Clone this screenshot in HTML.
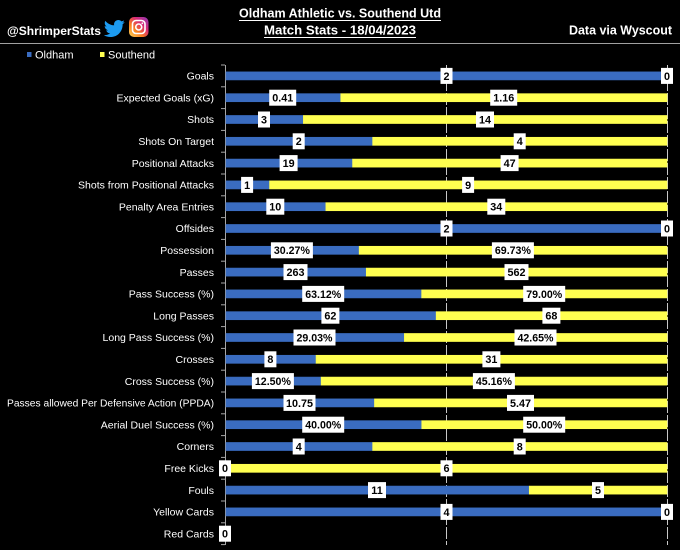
<!DOCTYPE html>
<html><head><meta charset="utf-8"><style>
html,body{margin:0;padding:0;background:#000;}
svg{display:block;}
text{font-family:"Liberation Sans",Arial,sans-serif;}
.c{fill:#fff;font-size:10.5px;text-anchor:end;}
.l{fill:#000;font-size:10.8px;font-weight:bold;text-anchor:middle;}
.bb rect{stroke:#3a6cc0;stroke-width:0.7;}
.yb rect{stroke:#ffff50;stroke-width:0.7;}
</style></head><body>
<svg width="680" height="550" viewBox="0 0 680 550" xmlns="http://www.w3.org/2000/svg">
<defs>
<linearGradient id="ig" x1="0" y1="1" x2="1" y2="0">
<stop offset="0" stop-color="#fdd85d"/><stop offset="0.35" stop-color="#fa7e1e"/><stop offset="0.65" stop-color="#d62976"/><stop offset="1" stop-color="#8a3ab9"/>
</linearGradient>
</defs>
<rect width="680" height="550" fill="#000"/>
<!-- header -->
<text x="7" y="35" fill="#fff" font-size="12px" font-weight="bold" textLength="94" lengthAdjust="spacingAndGlyphs">@ShrimperStats</text>
<path transform="translate(103,17.5) scale(0.92)" fill="#1d9bf0" d="M23.643 4.937c-.835.37-1.732.62-2.675.733.962-.576 1.7-1.49 2.048-2.578-.9.534-1.897.922-2.958 1.13-.85-.904-2.06-1.470-3.4-1.470-2.572 0-4.658 2.086-4.658 4.66 0 .364.042.718.12 1.06-3.873-.195-7.304-2.050-9.602-4.868-.4.690-.63 1.490-.63 2.342 0 1.616.823 3.043 2.072 3.878-.764-.025-1.482-.234-2.11-.583v.06c0 2.257 1.605 4.14 3.737 4.568-.392.106-.803.162-1.227.162-.3 0-.593-.028-.877-.082.593 1.85 2.313 3.198 4.352 3.234-1.595 1.25-3.604 1.995-5.786 1.995-.376 0-.747-.022-1.112-.065 2.062 1.323 4.51 2.093 7.14 2.093 8.57 0 13.255-7.098 13.255-13.254 0-.2-.005-.402-.014-.602.91-.658 1.7-1.478 2.323-2.41z"/>
<rect x="129" y="17" width="19.5" height="20" rx="5" fill="url(#ig)"/>
<rect x="132.5" y="20.5" width="12.5" height="13" rx="3.5" fill="none" stroke="#fff" stroke-width="1.6"/>
<circle cx="138.75" cy="27" r="3" fill="none" stroke="#fff" stroke-width="1.6"/>
<circle cx="142.3" cy="23.3" r="0.9" fill="#fff"/>
<text x="340" y="17.5" fill="#fff" font-size="12.5px" font-weight="bold" text-anchor="middle" textLength="202" lengthAdjust="spacingAndGlyphs">Oldham Athletic vs. Southend Utd</text>
<line x1="239" y1="20.5" x2="441" y2="20.5" stroke="#fff" stroke-width="1"/>
<text x="340" y="34.5" fill="#fff" font-size="12.5px" font-weight="bold" text-anchor="middle" textLength="152" lengthAdjust="spacingAndGlyphs">Match Stats - 18/04/2023</text>
<line x1="264" y1="37.5" x2="416" y2="37.5" stroke="#fff" stroke-width="1"/>
<text x="672" y="34.5" fill="#fff" font-size="12.5px" font-weight="bold" text-anchor="end" textLength="103" lengthAdjust="spacingAndGlyphs">Data via Wyscout</text>
<line x1="0" y1="43.5" x2="680" y2="43.5" stroke="#a0a0a0" stroke-width="1"/>
<!-- legend -->
<rect x="27" y="52" width="4.5" height="5" fill="#3a6cc0"/>
<text x="35" y="58.5" fill="#fff" font-size="11px">Oldham</text>
<rect x="100" y="52" width="4.5" height="5" fill="#ffff50"/>
<text x="108" y="58.5" fill="#fff" font-size="11px">Southend</text>
<!-- gridlines -->
<line x1="446.5" y1="65" x2="446.5" y2="545" stroke="#c8c8c8" stroke-width="1" stroke-dasharray="12,2"/>
<line x1="667.5" y1="65" x2="667.5" y2="545" stroke="#c8c8c8" stroke-width="1" stroke-dasharray="12,2"/>
<!-- axis -->
<line x1="225.5" y1="65" x2="225.5" y2="545" stroke="#a6a6a6" stroke-width="1"/>
<g stroke="#a6a6a6" stroke-width="1">
<line x1="221" y1="65" x2="225" y2="65"/><line x1="221" y1="86.8" x2="225" y2="86.8"/><line x1="221" y1="108.6" x2="225" y2="108.6"/><line x1="221" y1="130.4" x2="225" y2="130.4"/><line x1="221" y1="152.2" x2="225" y2="152.2"/><line x1="221" y1="174" x2="225" y2="174"/><line x1="221" y1="195.8" x2="225" y2="195.8"/><line x1="221" y1="217.6" x2="225" y2="217.6"/><line x1="221" y1="239.4" x2="225" y2="239.4"/><line x1="221" y1="261.2" x2="225" y2="261.2"/><line x1="221" y1="283" x2="225" y2="283"/><line x1="221" y1="304.8" x2="225" y2="304.8"/><line x1="221" y1="326.6" x2="225" y2="326.6"/><line x1="221" y1="348.4" x2="225" y2="348.4"/><line x1="221" y1="370.2" x2="225" y2="370.2"/><line x1="221" y1="392" x2="225" y2="392"/><line x1="221" y1="413.8" x2="225" y2="413.8"/><line x1="221" y1="435.6" x2="225" y2="435.6"/><line x1="221" y1="457.4" x2="225" y2="457.4"/><line x1="221" y1="479.2" x2="225" y2="479.2"/><line x1="221" y1="501" x2="225" y2="501"/><line x1="221" y1="522.8" x2="225" y2="522.8"/><line x1="221" y1="544.6" x2="225" y2="544.6"/>
</g>
<!-- category labels -->
<text class="c" x="214" y="79.6">Goals</text>
<text class="c" x="214" y="101.4">Expected Goals (xG)</text>
<text class="c" x="214" y="123.2">Shots</text>
<text class="c" x="214" y="145">Shots On Target</text>
<text class="c" x="214" y="166.8">Positional Attacks</text>
<text class="c" x="214" y="188.6">Shots from Positional Attacks</text>
<text class="c" x="214" y="210.4">Penalty Area Entries</text>
<text class="c" x="214" y="232.2">Offsides</text>
<text class="c" x="214" y="254">Possession</text>
<text class="c" x="214" y="275.8">Passes</text>
<text class="c" x="214" y="297.6">Pass Success (%)</text>
<text class="c" x="214" y="319.4">Long Passes</text>
<text class="c" x="214" y="341.2">Long Pass Success (%)</text>
<text class="c" x="214" y="363">Crosses</text>
<text class="c" x="214" y="384.8">Cross Success (%)</text>
<text class="c" x="214" y="406.6" textLength="207" lengthAdjust="spacingAndGlyphs">Passes allowed Per Defensive Action (PPDA)</text>
<text class="c" x="214" y="428.4">Aerial Duel Success (%)</text>
<text class="c" x="214" y="450.2">Corners</text>
<text class="c" x="214" y="472">Free Kicks</text>
<text class="c" x="214" y="493.8">Fouls</text>
<text class="c" x="214" y="515.6">Yellow Cards</text>
<text class="c" x="214" y="537.4">Red Cards</text>
<!-- bars: blue -->
<g fill="#3a6cc0" class="bb">
<rect x="226" y="71.9" width="441" height="8"/>
<rect x="226" y="93.7" width="114.4" height="8"/>
<rect x="226" y="115.5" width="77" height="8"/>
<rect x="226" y="137.3" width="146.3" height="8"/>
<rect x="226" y="159.1" width="126.2" height="8"/>
<rect x="226" y="180.9" width="43.2" height="8"/>
<rect x="226" y="202.7" width="99.5" height="8"/>
<rect x="226" y="224.5" width="441" height="8"/>
<rect x="226" y="246.3" width="132.8" height="8"/>
<rect x="226" y="268.1" width="139.9" height="8"/>
<rect x="226" y="289.9" width="195.3" height="8"/>
<rect x="226" y="311.7" width="209.8" height="8"/>
<rect x="226" y="333.5" width="178" height="8"/>
<rect x="226" y="355.3" width="89.7" height="8"/>
<rect x="226" y="377.1" width="94.8" height="8"/>
<rect x="226" y="398.9" width="148.1" height="8"/>
<rect x="226" y="420.7" width="195.4" height="8"/>
<rect x="226" y="442.5" width="146.3" height="8"/>
<rect x="226" y="486.1" width="302.9" height="8"/>
<rect x="226" y="507.9" width="441" height="8"/>
</g>
<!-- bars: yellow -->
<g fill="#ffff50" class="yb">
<rect x="340.8" y="93.7" width="326.2" height="8"/>
<rect x="303.4" y="115.5" width="363.6" height="8"/>
<rect x="372.7" y="137.3" width="294.3" height="8"/>
<rect x="352.6" y="159.1" width="314.4" height="8"/>
<rect x="269.6" y="180.9" width="397.4" height="8"/>
<rect x="325.9" y="202.7" width="341.1" height="8"/>
<rect x="359.2" y="246.3" width="307.8" height="8"/>
<rect x="366.3" y="268.1" width="300.7" height="8"/>
<rect x="421.7" y="289.9" width="245.3" height="8"/>
<rect x="436.2" y="311.7" width="230.8" height="8"/>
<rect x="404.4" y="333.5" width="262.6" height="8"/>
<rect x="316.1" y="355.3" width="350.9" height="8"/>
<rect x="321.2" y="377.1" width="345.8" height="8"/>
<rect x="374.5" y="398.9" width="292.5" height="8"/>
<rect x="421.8" y="420.7" width="245.2" height="8"/>
<rect x="372.7" y="442.5" width="294.3" height="8"/>
<rect x="226" y="464.3" width="441" height="8"/>
<rect x="529.3" y="486.1" width="137.7" height="8"/>
</g>
<!-- label boxes -->
<g fill="#fff">
<rect x="440.5" y="67.9" width="12" height="16"/><rect x="661" y="67.9" width="12" height="16"/>
<rect x="269.2" y="89.7" width="27" height="16"/><rect x="490.2" y="89.7" width="27" height="16"/>
<rect x="258" y="111.5" width="12" height="16"/><rect x="476" y="111.5" width="18" height="16"/>
<rect x="292.7" y="133.3" width="12" height="16"/><rect x="513.7" y="133.3" width="12" height="16"/>
<rect x="279.6" y="155.1" width="18" height="16"/><rect x="500.6" y="155.1" width="18" height="16"/>
<rect x="241.1" y="176.9" width="12" height="16"/><rect x="462.1" y="176.9" width="12" height="16"/>
<rect x="266.3" y="198.7" width="18" height="16"/><rect x="487.3" y="198.7" width="18" height="16"/>
<rect x="440.5" y="220.5" width="12" height="16"/><rect x="661" y="220.5" width="12" height="16"/>
<rect x="270.9" y="242.3" width="42" height="16"/><rect x="491.9" y="242.3" width="42" height="16"/>
<rect x="283.5" y="264.1" width="24" height="16"/><rect x="504.5" y="264.1" width="24" height="16"/>
<rect x="302.2" y="285.9" width="42" height="16"/><rect x="523.2" y="285.9" width="42" height="16"/>
<rect x="321.4" y="307.7" width="18" height="16"/><rect x="542.4" y="307.7" width="18" height="16"/>
<rect x="293.5" y="329.5" width="42" height="16"/><rect x="514.5" y="329.5" width="42" height="16"/>
<rect x="264.4" y="351.3" width="12" height="16"/><rect x="482.4" y="351.3" width="18" height="16"/>
<rect x="251.9" y="373.1" width="42" height="16"/><rect x="472.9" y="373.1" width="42" height="16"/>
<rect x="283.5" y="394.9" width="32" height="16"/><rect x="507" y="394.9" width="27" height="16"/>
<rect x="302.2" y="416.7" width="42" height="16"/><rect x="523.2" y="416.7" width="42" height="16"/>
<rect x="292.7" y="438.5" width="12" height="16"/><rect x="513.7" y="438.5" width="12" height="16"/>
<rect x="219" y="460.3" width="12" height="16"/><rect x="440.5" y="460.3" width="12" height="16"/>
<rect x="368" y="482.1" width="18" height="16"/><rect x="592" y="482.1" width="12" height="16"/>
<rect x="440.5" y="503.9" width="12" height="16"/><rect x="661" y="503.9" width="12" height="16"/>
<rect x="219" y="525.7" width="12" height="16"/>
</g>
<!-- label texts -->
<text class="l" x="446.5" y="79.8">2</text><text class="l" x="667" y="79.8">0</text>
<text class="l" x="282.7" y="101.6">0.41</text><text class="l" x="503.7" y="101.6">1.16</text>
<text class="l" x="264" y="123.4">3</text><text class="l" x="485" y="123.4">14</text>
<text class="l" x="298.7" y="145.2">2</text><text class="l" x="519.7" y="145.2">4</text>
<text class="l" x="288.6" y="167">19</text><text class="l" x="509.6" y="167">47</text>
<text class="l" x="247.1" y="188.8">1</text><text class="l" x="468.1" y="188.8">9</text>
<text class="l" x="275.3" y="210.6">10</text><text class="l" x="496.3" y="210.6">34</text>
<text class="l" x="446.5" y="232.4">2</text><text class="l" x="667" y="232.4">0</text>
<text class="l" x="291.9" y="254.2" textLength="36" lengthAdjust="spacingAndGlyphs">30.27%</text><text class="l" x="512.9" y="254.2" textLength="36" lengthAdjust="spacingAndGlyphs">69.73%</text>
<text class="l" x="295.5" y="276">263</text><text class="l" x="516.5" y="276">562</text>
<text class="l" x="323.2" y="297.8" textLength="36" lengthAdjust="spacingAndGlyphs">63.12%</text><text class="l" x="544.2" y="297.8" textLength="36" lengthAdjust="spacingAndGlyphs">79.00%</text>
<text class="l" x="330.4" y="319.6">62</text><text class="l" x="551.4" y="319.6">68</text>
<text class="l" x="314.5" y="341.4" textLength="36" lengthAdjust="spacingAndGlyphs">29.03%</text><text class="l" x="535.5" y="341.4" textLength="36" lengthAdjust="spacingAndGlyphs">42.65%</text>
<text class="l" x="270.4" y="363.2">8</text><text class="l" x="491.4" y="363.2">31</text>
<text class="l" x="272.9" y="385" textLength="36" lengthAdjust="spacingAndGlyphs">12.50%</text><text class="l" x="493.9" y="385" textLength="36" lengthAdjust="spacingAndGlyphs">45.16%</text>
<text class="l" x="299.5" y="406.8">10.75</text><text class="l" x="520.5" y="406.8">5.47</text>
<text class="l" x="323.2" y="428.6" textLength="36" lengthAdjust="spacingAndGlyphs">40.00%</text><text class="l" x="544.2" y="428.6" textLength="36" lengthAdjust="spacingAndGlyphs">50.00%</text>
<text class="l" x="298.7" y="450.4">4</text><text class="l" x="519.7" y="450.4">8</text>
<text class="l" x="225" y="472.2">0</text><text class="l" x="446.5" y="472.2">6</text>
<text class="l" x="377" y="494">11</text><text class="l" x="598" y="494">5</text>
<text class="l" x="446.5" y="515.8">4</text><text class="l" x="667" y="515.8">0</text>
<text class="l" x="225" y="537.6">0</text>
</svg>
</body></html>
